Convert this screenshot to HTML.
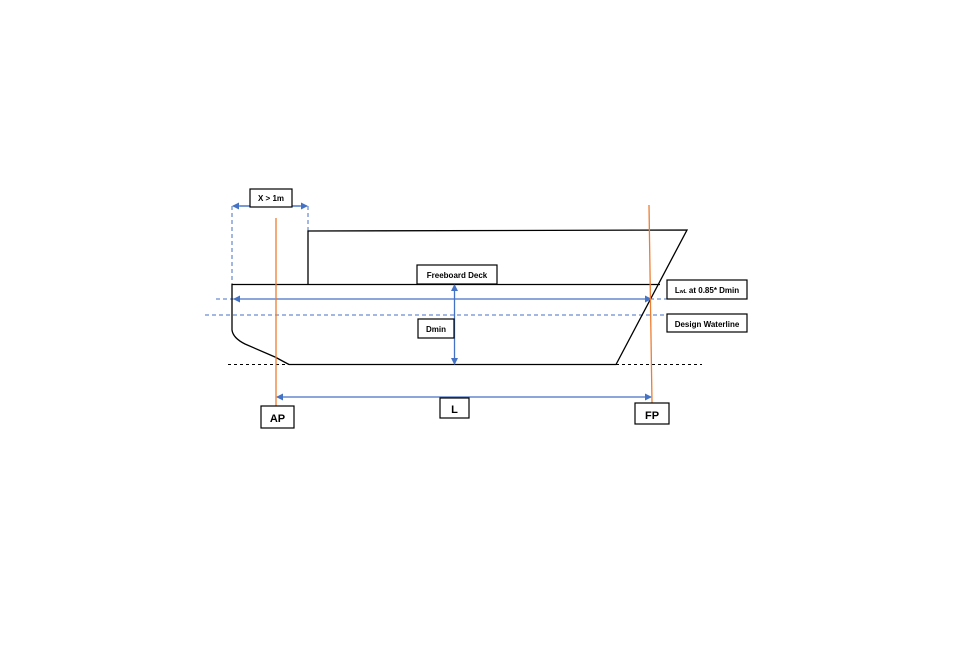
<!DOCTYPE html>
<html><head><style>
html,body{margin:0;padding:0;background:#fff;}
svg text{font-family:"Liberation Sans",sans-serif;}
</style></head><body>
<svg width="960" height="640" viewBox="0 0 960 640" xmlns="http://www.w3.org/2000/svg">
<defs>
<marker id="ah" markerWidth="7" markerHeight="7" refX="6" refY="3.5" orient="auto" markerUnits="userSpaceOnUse">
<path d="M0,0 L7,3.5 L0,7 z" fill="#4472c4"/></marker>
</defs>
<g stroke="#4472c4" stroke-width="1" stroke-dasharray="4,3" fill="none">
<line x1="232" y1="206" x2="232" y2="284"/>
<line x1="308" y1="206" x2="308" y2="231"/>
<line x1="216" y1="299" x2="700" y2="299"/>
<line x1="205" y1="315" x2="700" y2="315"/>
</g>
<g stroke="#000" stroke-width="1" stroke-dasharray="3,3">
<line x1="228" y1="364.5" x2="289" y2="364.5"/>
<line x1="616" y1="364.5" x2="702" y2="364.5"/>
</g>
<g stroke="#000" stroke-width="1.3" fill="none">
<polyline points="308,284 308,231 687,230 616,364.5 289,364.5"/>
<line x1="232" y1="284.5" x2="660" y2="284.5"/>
<path d="M232,284 L232,330 Q233,338 245,344 L275,357 L289,364.5"/>
</g>
<g stroke="#4472c4" stroke-width="1.3" fill="none">
<line x1="240" y1="206" x2="307" y2="206" marker-end="url(#ah)"/>
<line x1="300" y1="206" x2="233" y2="206" marker-end="url(#ah)"/>
<line x1="440" y1="299" x2="234" y2="299" marker-end="url(#ah)"/>
<line x1="440" y1="299" x2="651" y2="299" marker-end="url(#ah)"/>
<line x1="454.5" y1="320" x2="454.5" y2="285" marker-end="url(#ah)"/>
<line x1="454.5" y1="320" x2="454.5" y2="364" marker-end="url(#ah)"/>
<line x1="460" y1="397" x2="277" y2="397" marker-end="url(#ah)"/>
<line x1="460" y1="397" x2="651" y2="397" marker-end="url(#ah)"/>
</g>
<g stroke="#ed7d31" stroke-width="1.3">
<line x1="276" y1="218" x2="276" y2="406"/>
<line x1="649" y1="205" x2="652" y2="403"/>
</g>
<g fill="#fff" stroke="#000" stroke-width="1.2">
<rect x="250" y="189" width="42" height="18"/>
<rect x="417" y="265" width="80" height="19"/>
<rect x="418" y="319" width="36" height="19"/>
<rect x="667" y="280" width="80" height="19"/>
<rect x="667" y="314" width="80" height="18"/>
<rect x="261" y="406" width="33" height="22"/>
<rect x="440" y="398" width="29" height="20"/>
<rect x="635" y="403" width="34" height="21"/>
</g>
<g fill="#000" font-size="8" text-anchor="middle" font-weight="bold">
<text x="271" y="201">X &gt; 1m</text>
<text x="457" y="278">Freeboard Deck</text>
<text x="436" y="332">Dmin</text>
<text x="707" y="293">L<tspan font-size="5">wL</tspan> at 0.85* Dmin</text>
<text x="707" y="327">Design Waterline</text>
<text x="277.5" y="422" font-size="11">AP</text>
<text x="454.5" y="413" font-size="11">L</text>
<text x="652" y="419" font-size="11">FP</text>
</g>
</svg>
</body></html>
